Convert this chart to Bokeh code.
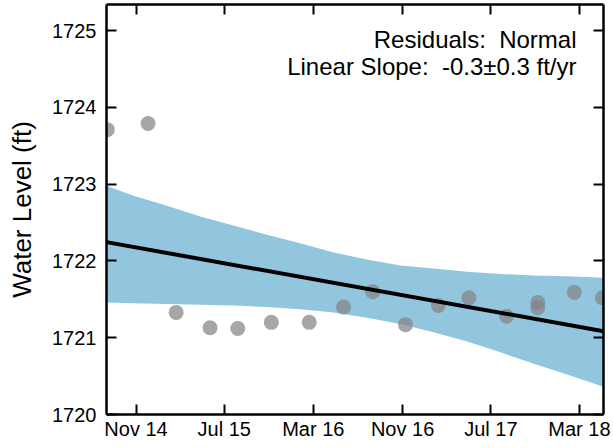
import pandas as pd
from bokeh.plotting import figure
from bokeh.models import (FixedTicker, DatetimeTickFormatter, LinearAxis, DatetimeAxis,
                          Range1d, Label, CustomLabelingPolicy)
from bokeh.embed import file_html
from bokeh.resources import INLINE

# ---- data ----
obs_dates = ["2014-08-14", "2014-12-04", "2015-02-19", "2015-05-23", "2015-08-07",
             "2015-11-07", "2016-02-19", "2016-05-23", "2016-08-11", "2016-11-09",
             "2017-02-07", "2017-05-02", "2017-08-13", "2017-11-07", "2017-11-07",
             "2018-02-15", "2018-05-03"]
obs_level = [1723.71, 1723.79, 1721.33, 1721.13, 1721.12,
             1721.20, 1721.20, 1721.40, 1721.60, 1721.17,
             1721.42, 1721.52, 1721.28, 1721.46, 1721.39,
             1721.59, 1721.52]

band_dates = ["2014-08-12", "2014-10-25", "2015-01-25", "2015-04-26", "2015-07-26",
              "2015-10-26", "2016-01-25", "2016-04-26", "2016-07-26", "2016-10-26",
              "2017-01-25", "2017-04-27", "2017-07-27", "2017-10-27", "2018-01-26",
              "2018-05-06"]
band_upper = [1722.98, 1722.85, 1722.72, 1722.58, 1722.46,
              1722.34, 1722.23, 1722.11, 1722.02, 1721.94,
              1721.90, 1721.86, 1721.83, 1721.81, 1721.80,
              1721.78]
band_lower = [1721.46, 1721.45, 1721.44, 1721.43, 1721.42,
              1721.40, 1721.37, 1721.33, 1721.26, 1721.18,
              1721.07, 1720.95, 1720.81, 1720.66, 1720.52,
              1720.36]

trend_dates = ["2014-08-12", "2018-05-06"]
trend_level = [1722.245, 1721.085]

x_tick_dates = ["2014-11-01", "2015-07-01", "2016-03-01", "2016-11-01", "2017-07-01", "2018-03-01"]
y_ticks = [1720, 1721, 1722, 1723, 1724, 1725]

annotation_lines = ["Residuals:\u00a0 Normal", "Linear Slope:\u00a0 -0.3\u00b10.3 ft/yr"]


def ms(d):
    return pd.Timestamp(d).timestamp() * 1000.0


FONT = "Liberation Sans"

p = figure(width=613, height=448, x_axis_type="datetime",
           x_range=Range1d(ms("2014-08-12"), ms("2018-05-06")),
           y_range=Range1d(1720.0, 1725.34),
           output_backend="svg", toolbar_location=None,
           min_border_left=106, min_border_right=10, min_border_top=4, min_border_bottom=34)
p.outline_line_color = None
p.xgrid.visible = False
p.ygrid.visible = False
p.background_fill_color = "white"
p.border_fill_color = "white"

# confidence band
p.varea(x=[pd.Timestamp(d) for d in band_dates], y1=band_lower, y2=band_upper,
        fill_color="#92C5DE", fill_alpha=1.0)

# observations
p.scatter(x=[pd.Timestamp(d) for d in obs_dates], y=obs_level, size=15,
          fill_color="#848484", fill_alpha=0.72, line_color=None)

# trend line
p.line(x=[pd.Timestamp(d) for d in trend_dates], y=trend_level,
       line_color="black", line_width=4)

xt = FixedTicker(ticks=[ms(d) for d in x_tick_dates], minor_ticks=[])
yt = FixedTicker(ticks=y_ticks, minor_ticks=[])
fmt = DatetimeTickFormatter(months="%b %y", days="%b %y", years="%b %y",
                            hours="%b %y", minutes="%b %y")


def style_axis(ax, show_labels):
    ax.axis_line_width = 2.5
    ax.axis_line_color = "black"
    ax.major_tick_in = 10
    ax.major_tick_out = 0
    ax.major_tick_line_width = 2
    ax.major_tick_line_color = "black"
    ax.minor_tick_line_color = None
    if show_labels:
        ax.major_label_text_font = FONT
        ax.major_label_text_font_size = "20px"
        ax.major_label_text_color = "black"
    else:
        ax.major_label_text_font_size = "0px"
        ax.major_label_standoff = -30
        ax.major_label_policy = CustomLabelingPolicy(code="return []")


xa = p.xaxis[0]
xa.ticker = xt
xa.formatter = fmt
style_axis(xa, True)
xa.major_label_standoff = 3

ya = p.yaxis[0]
ya.ticker = yt
style_axis(ya, True)
ya.major_label_standoff = 10
ya.axis_label = "Water Level (ft)"
ya.axis_label_text_font = FONT
ya.axis_label_text_font_size = "26px"
ya.axis_label_text_font_style = "normal"
ya.axis_label_text_color = "black"
ya.axis_label_standoff = 12

top = DatetimeAxis(ticker=xt, formatter=fmt)
style_axis(top, False)
p.add_layout(top, "above")

right = LinearAxis(ticker=yt)
style_axis(right, False)
p.add_layout(right, "right")

label_x = ms("2018-02-21")
for txt, yv in zip(annotation_lines, [1724.88, 1724.53]):
    p.add_layout(Label(x=label_x, y=yv, text=txt, text_align="right",
                       text_baseline="alphabetic", text_font=FONT,
                       text_font_size="24px", text_color="black"))

open("out.html", "w").write(file_html(p, INLINE))
